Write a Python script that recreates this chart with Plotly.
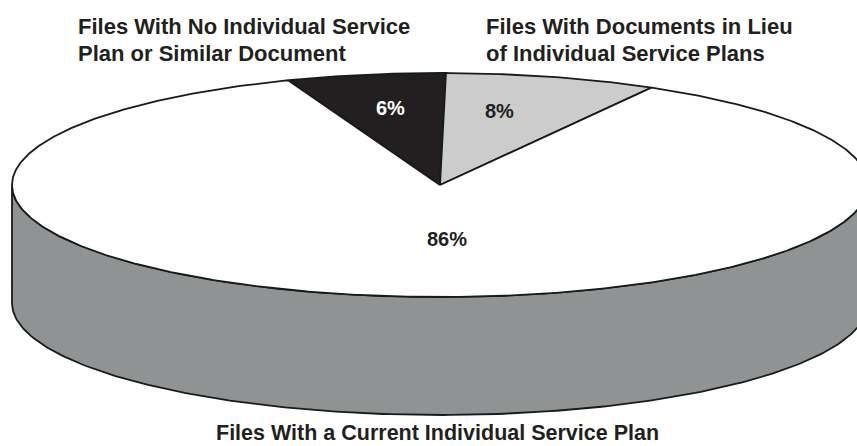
import numpy as np
import plotly.graph_objects as go

# ---------------- data ----------------
categories = [
    "Files With No Individual Service Plan or Similar Document",
    "Files With Documents in Lieu of Individual Service Plans",
    "Files With a Current Individual Service Plan",
]
category_lines = [
    ["Files With No Individual Service", "Plan or Similar Document"],
    ["Files With Documents in Lieu", "of Individual Service Plans"],
    ["Files With a Current Individual Service Plan"],
]
values = [6, 8, 86]
pct_labels = ["6%", "8%", "86%"]

# ---------------- style / layout constants ----------------
W, H = 857, 446
CX, CY, RX, RY, DEPTH = 440.0, 185.0, 428.0, 112.0, 118.0
START_DEG = -20.8  # clockwise from 12 o'clock
top_colors = ["#231f20", "#cccccc", "#ffffff"]
side_colors = ["#111111", "#9a9a9a", "#8f9393"]
pct_colors = ["#ffffff", "#231f20", "#231f20"]
pct_pos = [(390, 108), (499, 111), (447, 239)]
title_pos = [(77, "left", "middle", [26.0, 53.5], 22),
             (485, "left", "middle", [26.0, 53.5], 22),
             (437, "center", "bottom", [446.0], 21.5)]
FONT = "Liberation Sans, Arial, sans-serif"
LINE_W = 1.8


def pt(theta_deg, dz=0.0):
    t = np.radians(theta_deg)
    return CX + RX * np.sin(t), CY - RY * np.cos(t) + dz


fig = go.Figure()

total = float(sum(values))
bounds = []
a = START_DEG
for v in values:
    b = a + 360.0 * v / total
    bounds.append((a, b))
    a = b

# side walls (visible front half: 90..270 deg)
for (a0, a1), col in zip(bounds, side_colors):
    for shift in (-360.0, 0.0, 360.0):
        lo, hi = max(a0 + shift, 90.0), min(a1 + shift, 270.0)
        if lo < hi:
            th = np.linspace(lo, hi, 200)
            xs_top, ys_top = pt(th)
            xs_bot, ys_bot = pt(th[::-1], DEPTH)
            xs = np.concatenate([xs_top, xs_bot, xs_top[:1]])
            ys = np.concatenate([ys_top, ys_bot, ys_top[:1]])
            fig.add_trace(go.Scatter(x=xs, y=ys, mode="lines", fill="toself",
                                     fillcolor=col, line=dict(color="#1a1a1a", width=LINE_W),
                                     hoverinfo="skip", showlegend=False))

# top faces
for (a0, a1), col, name in zip(bounds, top_colors, categories):
    n = max(int(abs(a1 - a0) * 2), 10)
    th = np.linspace(a0, a1, n)
    ax_, ay_ = pt(th)
    xs = np.concatenate([[CX], ax_, [CX]])
    ys = np.concatenate([[CY], ay_, [CY]])
    fig.add_trace(go.Scatter(x=xs, y=ys, mode="lines", fill="toself",
                             fillcolor=col, line=dict(color="#1a1a1a", width=LINE_W),
                             name=name, hoverinfo="name", showlegend=False))

annotations = []
for lab, (px, py), c in zip(pct_labels, pct_pos, pct_colors):
    annotations.append(dict(x=px, y=py, text="<b>%s</b>" % lab, showarrow=False,
                            font=dict(family=FONT, size=20, color=c),
                            xanchor="center", yanchor="middle"))
for lines, (tx, anchor, yanc, ys, fs) in zip(category_lines, title_pos):
    for line, ty in zip(lines, ys):
        annotations.append(dict(x=tx, y=ty, text="<b>%s</b>" % line, showarrow=False,
                                font=dict(family=FONT, size=fs, color="#231f20"),
                                xanchor=anchor, yanchor=yanc, borderpad=0))

fig.update_layout(
    width=W, height=H,
    margin=dict(l=0, r=0, t=0, b=0),
    paper_bgcolor="#ffffff", plot_bgcolor="#ffffff",
    xaxis=dict(range=[0, W], visible=False, fixedrange=True),
    yaxis=dict(range=[H, 0], visible=False, fixedrange=True),
    annotations=annotations,
    showlegend=False,
)
fig.write_html(
    "out.html",
    config={"displayModeBar": False},
    post_script="document.body.style.margin='0';document.body.style.padding='0';"
                "document.documentElement.style.overflow='hidden';",
)
